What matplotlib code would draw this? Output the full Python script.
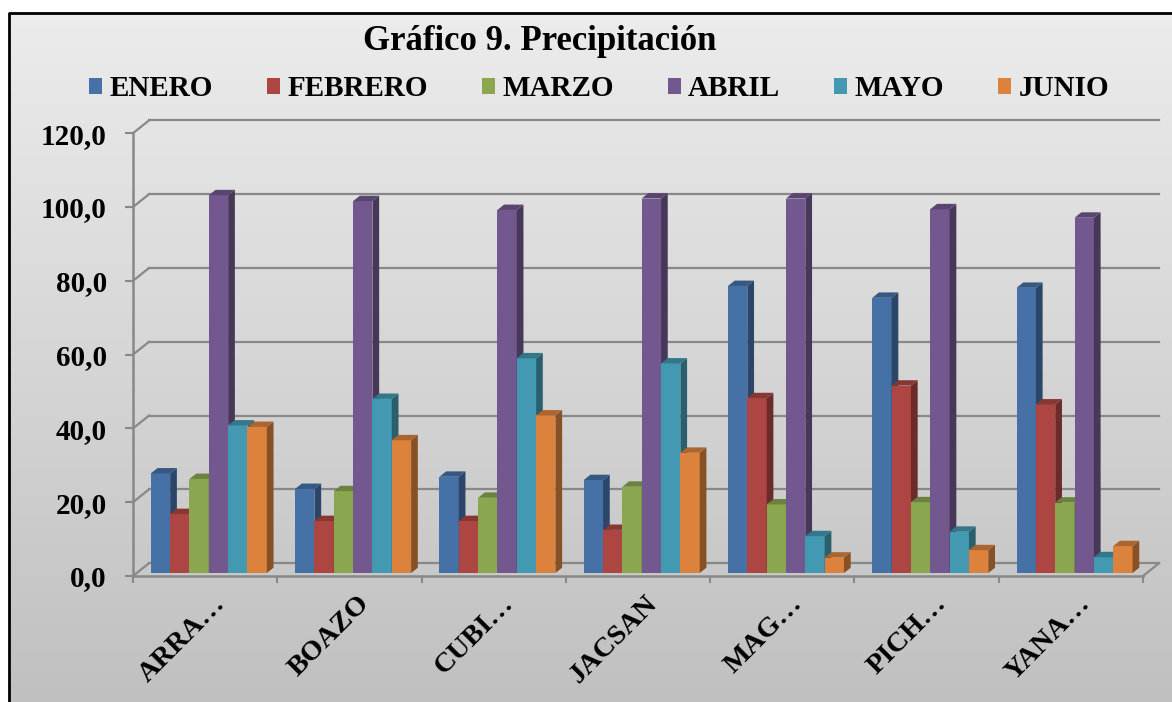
import numpy as np
import matplotlib
matplotlib.use("Agg")
import matplotlib.pyplot as plt
from matplotlib.patches import Patch
from matplotlib.lines import Line2D
from matplotlib.transforms import ScaledTranslation
import matplotlib.colors as mcolors

categories = ["ARRA…", "BOAZO", "CUBI…", "JACSAN", "MAG…", "PICH…", "YANA…"]
series_names = ["ENERO", "FEBRERO", "MARZO", "ABRIL", "MAYO", "JUNIO"]

enero = [27.0, 22.8, 26.1, 25.2, 77.8, 74.6, 77.3]
febrero = [16.0, 14.1, 14.1, 11.7, 47.4, 50.8, 45.7]
marzo = [25.5, 22.2, 20.4, 23.4, 18.6, 19.2, 19.1]
abril = [102.4, 100.8, 98.4, 101.5, 101.5, 98.6, 96.3]
mayo = [40.0, 47.2, 58.2, 56.8, 10.0, 11.2, 4.3]
junio = [39.6, 36.0, 42.7, 32.6, 4.2, 6.2, 7.3]

y_ticks = [0, 20, 40, 60, 80, 100, 120]

series = [enero, febrero, marzo, abril, mayo, junio]
colors = ["#4571A7", "#AD4643", "#8AA64E", "#72588F", "#4399B2", "#DC823C"]

plt.rcParams["font.family"] = ["Liberation Serif", "DejaVu Serif"]
plt.rcParams["font.weight"] = "bold"

W, H = 1172, 702
fig = plt.figure(figsize=(W / 100, H / 100), dpi=100)
fig.patch.set_facecolor("white")

# gray gradient chart area with black border
bg = fig.add_axes([9 / W, 0, 1 - 9 / W, 1 - 13 / H])
grad = np.linspace(0, 1, 256).reshape(-1, 1)
cmap = mcolors.LinearSegmentedColormap.from_list("bg", ["#ececec", "#c0c0c0"])
bg.imshow(grad, aspect="auto", cmap=cmap, extent=[0, 1, 0, 1], origin="upper")
bg.set_axis_off()
fig.add_artist(Line2D([9 / W, 9 / W, 1.01], [-0.01, 1 - 13 / H, 1 - 13 / H],
                      transform=fig.transFigure, color="black", lw=2))

# 3D look: back wall offset and bar placement
px_cat = 144.29
px_val = 3.69
dx = 16 / px_cat
dy = 12.8 / px_val
f_front = 0.23
f_depth = 0.42
bw = 0.134
grid_color = "#888888"

ax = fig.add_axes([133 / W, (H - 576) / H, (7 + dx) * px_cat / W, (120 + dy) * px_val / H])
ax.set_xlim(0, 7 + dx)
ax.set_ylim(0, 120 + dy)
ax.patch.set_visible(False)

for v in y_ticks:
    ax.plot([0, dx], [v, v + dy], color=grid_color, lw=1.6, zorder=1, clip_on=False)
    ax.plot([dx, 7 + dx], [v + dy, v + dy], color=grid_color, lw=1.6, zorder=1, clip_on=False)
ax.plot([7, 7 + dx], [0, dy], color=grid_color, lw=1.6, zorder=1, clip_on=False)

x0 = np.arange(len(categories)) + 0.5 - 3 * bw
fx = f_front * dx
fy = f_front * dy
ddx = f_depth * dx
ddy = f_depth * dy

for j, vals in enumerate(series):
    base = mcolors.to_rgb(colors[j])
    side = tuple(c * 0.62 for c in base)
    top = tuple(c * 0.78 for c in base)
    xl = x0 + j * bw + fx
    ax.bar(xl, vals, width=bw, bottom=fy, align="edge", color=colors[j],
           edgecolor="none", zorder=3 + j)
    for x, v in zip(xl, vals):
        xr = x + bw
        ax.fill([xr, xr + ddx, xr + ddx, xr], [fy, fy + ddy, fy + v + ddy, fy + v],
                color=side, lw=0, zorder=3 + j)
        ax.fill([x, xr, xr + ddx, x + ddx], [fy + v, fy + v, fy + v + ddy, fy + v + ddy],
                color=top, lw=0, zorder=3 + j)

for s in ["top", "right"]:
    ax.spines[s].set_visible(False)
ax.spines["left"].set_bounds(0, 120)
ax.spines["bottom"].set_bounds(0, 7)
for s in ["left", "bottom"]:
    ax.spines[s].set_color(grid_color)
    ax.spines[s].set_linewidth(1.8)
    ax.spines[s].set_zorder(2)

ax.set_yticks(y_ticks, labels=[f"{v:.1f}".replace(".", ",") for v in y_ticks])
ax.tick_params(axis="y", length=5.8, width=1.5, color=grid_color, pad=13, labelsize=21)

ax.set_xticks(np.arange(len(categories)) + 0.5)
ax.set_xticklabels(categories, rotation=45, ha="right", va="top",
                   rotation_mode="anchor", fontsize=20.5)
ax.set_xticks(np.arange(len(categories) + 1), minor=True)
ax.tick_params(axis="x", which="major", length=0, pad=11)
ax.tick_params(axis="x", which="minor", length=5, width=1.5, color=grid_color)
offset = ScaledTranslation(7 / 100, 0, fig.dpi_scale_trans)
for lab in ax.get_xticklabels():
    lab.set_transform(lab.get_transform() + offset)

fig.text(540 / W, 1 - 50 / H, "Gráfico 9. Precipitación", ha="center", va="baseline",
         fontsize=25, fontweight="bold")

handles = [Patch(facecolor=c, edgecolor="none") for c in colors]
fig.legend(handles, series_names, loc="center", bbox_to_anchor=(599 / W, 1 - 89 / H),
           ncol=6, frameon=False, prop={"size": 21, "weight": "bold"},
           handlelength=0.45, handleheight=0.45, handletextpad=0.25, columnspacing=1.85)

fig.savefig("out.png", dpi=100)
